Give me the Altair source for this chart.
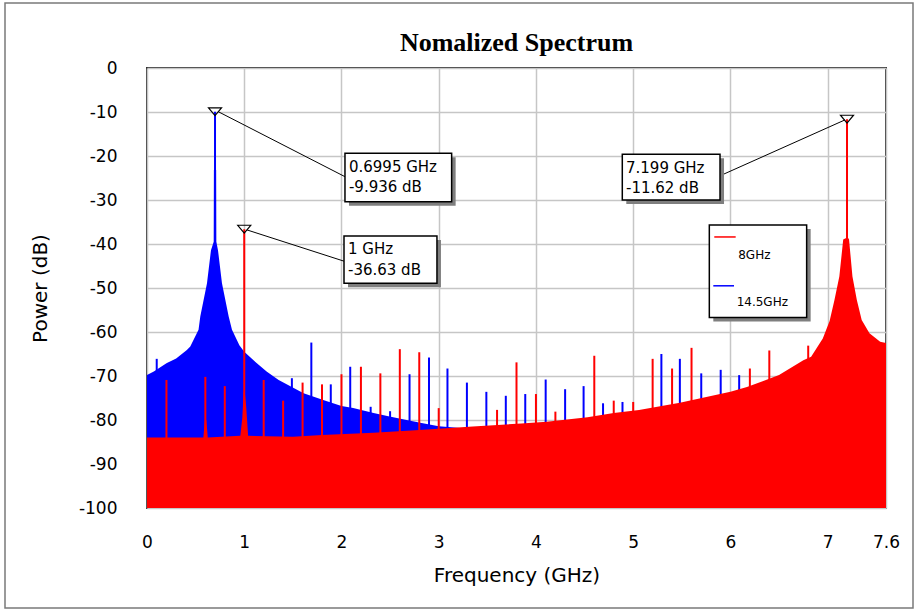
import altair as alt
import pandas as pd

# ---------------- data ----------------
# blue (14.5 GHz) spectrum envelope
blue_env_f = [0.0, 0.07, 0.2, 0.3, 0.41, 0.445, 0.53, 0.548, 0.617, 0.658, 0.686, 0.688,
              0.711, 0.713, 0.73, 0.771, 0.84, 0.874, 0.95, 1.0, 1.13, 1.23, 1.354, 1.61,
              1.82, 2.0, 2.12, 2.33, 2.47, 2.67, 2.81, 3.0, 3.16, 3.3]
blue_env_db = [-69.8, -69.0, -67.1, -66.0, -64.1, -63.3, -59.5, -56.5, -48.9, -41.4, -39.5, -23.2,
               -23.2, -39.5, -41.4, -48.9, -56.5, -59.5, -63.0, -64.5, -67.1, -69.0, -70.9, -73.9,
               -75.5, -76.8, -77.3, -78.4, -79.1, -80.0, -80.6, -81.4, -81.7, -82.0]

# red (8 GHz) spectrum envelope
red_env_f = [0.0, 0.58, 0.595, 0.61, 0.625, 0.96, 0.98, 0.995, 1.005, 1.02, 1.04, 1.5, 1.8,
             2.33, 2.8, 3.35, 3.85, 4.11, 4.53, 4.8, 5.06, 5.48, 6.0, 6.17, 6.5, 6.75, 6.83,
             6.95, 7.02, 7.07, 7.12, 7.16, 7.185, 7.213, 7.22, 7.255, 7.30, 7.35, 7.43, 7.54, 7.6]
red_env_db = [-84.0, -84.0, -80.0, -80.0, -84.0, -83.6, -79.5, -73.5, -73.5, -77.0, -83.6, -83.8, -83.4,
              -82.9, -82.3, -81.5, -80.8, -80.4, -79.4, -78.4, -77.7, -76.1, -73.6, -72.5, -69.8, -66.4, -65.6,
              -61.5, -57.5, -52.7, -47.4, -39.0, -38.7, -38.7, -39.0, -47.4, -52.7, -57.3, -60.3, -62.2, -62.5]

# spurious lines
blue_spur_f = [0.1, 0.6995, 1.49, 1.69, 1.89, 2.09, 2.30, 2.50, 2.70, 2.90, 3.09, 3.29, 3.49, 3.69,
               3.89, 4.10, 4.30, 4.49, 4.69, 4.89, 5.29, 5.48, 5.70, 5.90, 6.09]
blue_spur_db = [-66.1, -9.936, -70.5, -62.4, -71.9, -67.9, -77.0, -78.0, -69.6, -65.8, -68.3, -71.5, -73.6, -74.5,
                -74.1, -70.8, -73.0, -72.3, -76.2, -75.9, -65.0, -66.1, -69.4, -68.6, -69.8]
red_spur_f = [0.2, 0.6, 0.8, 1.0, 1.2, 1.4, 1.6, 1.8, 2.0, 2.2, 2.4, 2.6, 2.8, 3.0, 3.6, 3.8, 4.0,
              4.2, 4.6, 4.8, 5.0, 5.2, 5.4, 5.6, 6.2, 6.4, 6.8, 7.199]
red_spur_db = [-70.9, -70.2, -72.3, -36.63, -70.9, -75.6, -71.5, -71.9, -69.6, -67.9, -69.4, -63.9, -64.6,
               -77.3, -77.7, -66.9, -74.1, -78.1, -65.4, -75.6, -75.9, -66.1, -68.3, -63.6, -68.3, -64.2,
               -63.1, -11.62]

# markers and callouts
marker_f = [0.6995, 1.0, 7.199]
marker_db = [-9.936, -36.63, -11.62]
callout_f = [0.733, 1.028, 7.178]
callout_db = [-9.93, -36.8, -11.8]
callout_f2 = [2.036, 2.026, 5.913]
callout_db2 = [-24.7, -43.9, -24.3]

box_f = [2.036, 2.026, 4.888]
box_f2 = [3.133, 2.982, 5.893]
box_db = [-19.4, -38.2, -19.6]
box_db2 = [-30.4, -48.9, -30.0]
box_text_f = [2.077, 2.067, 4.926, 2.077, 2.067, 4.926]
box_text_db = [-22.4, -41.1, -22.8, -27.1, -45.9, -27.3]
box_text = ["0.6995 GHz", "1 GHz", "7.199 GHz", "-9.936 dB", "-36.63 dB", "-11.62 dB"]

legend_box = [5.783, 6.784, -35.7, -56.7]
legend_series = ["8GHz", "14.5GHz"]
legend_colors = ["#ff0000", "#0000ff"]
legend_line_f = [5.834, 5.824]
legend_line_f2 = [6.054, 6.037]
legend_line_db = [-38.4, -49.5]
legend_text_f = [6.08, 6.064]
legend_text_db = [-42.5, -53.2]

x_ticks = [0, 1, 2, 3, 4, 5, 6, 7, 7.6]
y_ticks = list(range(-100, 1, 10))

W, H = 739, 440
SANS = "DejaVu Sans"

# ---------------- encodings ----------------
X = alt.X("f:Q", scale=alt.Scale(domain=[0, 7.6], nice=False, zero=False),
          axis=alt.Axis(values=x_ticks, title="Frequency (GHz)", labelExpr="'' + datum.value",
                        grid=True, ticks=False, tickSize=0, domain=False, labelPadding=26,
                        labelFontSize=17, labelFont=SANS, labelColor="#000",
                        titleFont=SANS, titleFontSize=20, titleFontWeight="normal", titleColor="#000",
                        titleY=67, titleBaseline="middle", labelFlush=False))
Y = alt.Y("db:Q", scale=alt.Scale(domain=[-100, 0], nice=False, zero=False),
          axis=alt.Axis(values=y_ticks, title="Power (dB)", labelExpr="'' + datum.value",
                        grid=True, ticks=False, tickSize=0, domain=False,
                        labelPadding=30, labelFontSize=17, labelFont=SANS, labelColor="#000",
                        titleFont=SANS, titleFontSize=20, titleFontWeight="normal", titleColor="#000",
                        titleX=-107, titleY=220, titleBaseline="middle", titleAngle=-90, labelFlush=False))
X2 = alt.X2("f2:Q")
Y2 = alt.Y2("db2:Q")

blue_env = pd.DataFrame({"f": blue_env_f, "db": blue_env_db})
red_env = pd.DataFrame({"f": red_env_f, "db": red_env_db})
blue_spur = pd.DataFrame({"f": blue_spur_f, "db": blue_spur_db})
red_spur = pd.DataFrame({"f": red_spur_f, "db": red_spur_db})

blue_area = alt.Chart(blue_env).mark_area(color="#0000ff", opacity=1, interpolate="linear").encode(
    x=X, y=Y, y2=alt.datum(-100))
red_area = alt.Chart(red_env).mark_area(color="#ff0000", opacity=1, interpolate="linear").encode(
    x=X, y=Y, y2=alt.datum(-100))
blue_rules = alt.Chart(blue_spur).mark_rule(color="#0000ff", strokeWidth=2).encode(
    x=X, y=Y, y2=alt.datum(-100))
red_rules = alt.Chart(red_spur).mark_rule(color="#ff0000", strokeWidth=2).encode(
    x=X, y=Y, y2=alt.datum(-100))

markers = alt.Chart(pd.DataFrame({"f": marker_f, "db": marker_db})).mark_point(
    shape="M-1,-0.6L1,-0.6L0,0.6Z", size=169, filled=False, stroke="#000", strokeWidth=1.2, opacity=1
).encode(x=X, y=Y)

callouts = alt.Chart(pd.DataFrame({"f": callout_f, "db": callout_db, "f2": callout_f2, "db2": callout_db2})
                     ).mark_rule(color="#000", strokeWidth=1).encode(x=X, y=Y, x2=X2, y2=Y2)

boxes_df = pd.DataFrame({"f": box_f + [legend_box[0]], "f2": box_f2 + [legend_box[1]],
                         "db": box_db + [legend_box[2]], "db2": box_db2 + [legend_box[3]]})
shadows = alt.Chart(boxes_df).mark_rect(fill="#7f7f7f", xOffset=4, x2Offset=4, yOffset=4, y2Offset=4).encode(
    x=X, x2=X2, y=Y, y2=Y2)
boxes = alt.Chart(boxes_df).mark_rect(fill="#ffffff", stroke="#000", strokeWidth=1.5).encode(
    x=X, x2=X2, y=Y, y2=Y2)

box_texts = alt.Chart(pd.DataFrame({"f": box_text_f, "db": box_text_db, "t": box_text})).mark_text(
    align="left", baseline="middle", font=SANS, fontSize=15, color="#000").encode(x=X, y=Y, text="t:N")

leg_lines = alt.Chart(pd.DataFrame({"f": legend_line_f, "f2": legend_line_f2, "db": legend_line_db,
                                    "s": legend_series})).mark_rule(strokeWidth=1.5).encode(
    x=X, x2=X2, y=Y,
    color=alt.Color("s:N", scale=alt.Scale(domain=legend_series, range=legend_colors), legend=None))
leg_text = alt.Chart(pd.DataFrame({"f": legend_text_f, "db": legend_text_db, "s": legend_series})).mark_text(
    align="left", baseline="middle", font=SANS, fontSize=12, color="#000").encode(x=X, y=Y, text="s:N")

one = pd.DataFrame({"a": [0]})
frame = alt.Chart(one).mark_rect(fill=None, stroke="#7a7a7a", strokeWidth=1.5).encode(
    x=alt.value(-142), x2=alt.value(766), y=alt.value(-65), y2=alt.value(540))
title = alt.Chart(one).mark_text(font="Liberation Serif", fontSize=26, fontWeight="bold", color="#000",
                                 align="center", baseline="middle").encode(
    x=alt.value(W / 2), y=alt.value(-25), text=alt.value("Nomalized Spectrum"))

chart = alt.layer(
    blue_area, blue_rules, red_area, red_rules, markers, callouts,
    shadows, boxes, box_texts, leg_lines, leg_text, frame, title
).properties(
    width=W, height=H,
    autosize=alt.AutoSizeParams(type="none"),
    padding={"left": 147, "top": 68, "right": 28, "bottom": 103},
    background="#ffffff",
).configure_view(
    stroke="#303030", strokeWidth=2
).configure_axis(
    gridColor="#c6c6c6", gridWidth=1.5, gridOpacity=1
)

chart.save("out.html", embed_options={"renderer": "svg", "actions": False})
